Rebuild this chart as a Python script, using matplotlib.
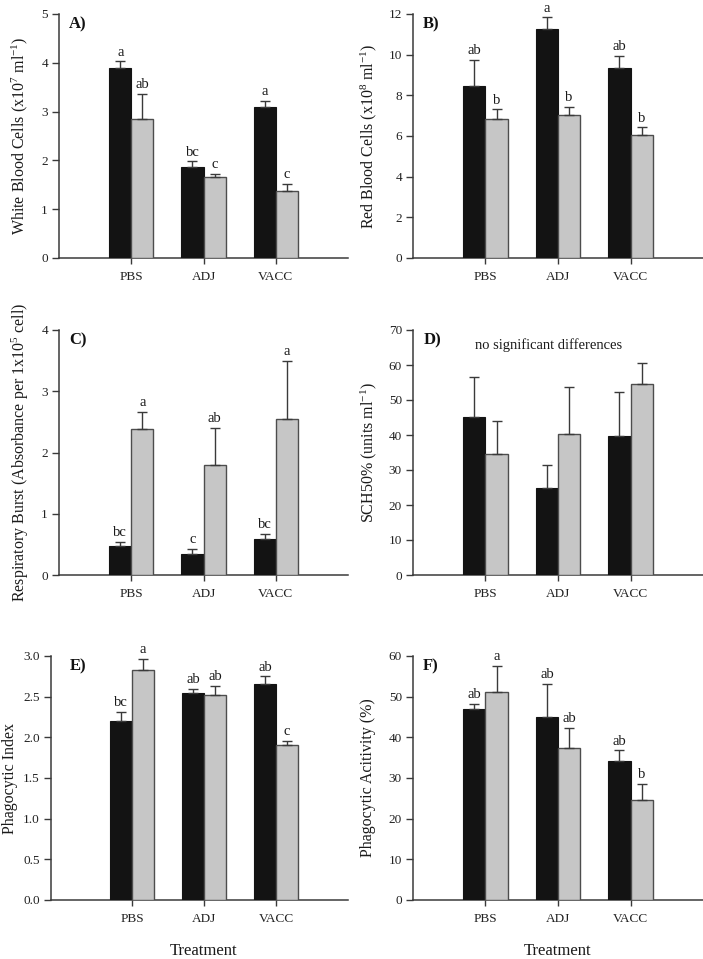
import numpy as np
import matplotlib.pyplot as plt

plt.rcParams['font.family'] = ['Liberation Serif', 'DejaVu Serif']
plt.rcParams['mathtext.fontset'] = 'custom'
plt.rcParams['mathtext.rm'] = 'Liberation Serif'
plt.rcParams['mathtext.it'] = 'Liberation Serif:italic'

treatments = ['PBS', 'ADJ', 'VACC']

# A) white blood cells
wbc_black = [3.89, 1.87, 3.09]
wbc_black_se = [0.14, 0.11, 0.13]
wbc_gray = [2.85, 1.67, 1.37]
wbc_gray_se = [0.52, 0.06, 0.15]
wbc_letters = [['a', 'bc', 'a'], ['ab', 'c', 'c']]

# B) red blood cells
rbc_black = [8.47, 11.25, 9.35]
rbc_black_se = [1.26, 0.58, 0.58]
rbc_gray = [6.83, 7.01, 6.04]
rbc_gray_se = [0.48, 0.41, 0.38]
rbc_letters = [['ab', 'a', 'ab'], ['b', 'b', 'b']]

# C) respiratory burst
rb_black = [0.48, 0.35, 0.59]
rb_black_se = [0.06, 0.07, 0.08]
rb_gray = [2.38, 1.79, 2.55]
rb_gray_se = [0.28, 0.61, 0.94]
rb_letters = [['bc', 'c', 'bc'], ['a', 'ab', 'a']]

# D) SCH50
sch_black = [45.2, 24.9, 39.6]
sch_black_se = [11.3, 6.4, 12.7]
sch_gray = [34.5, 40.2, 54.5]
sch_gray_se = [9.6, 13.4, 6.0]

# E) phagocytic index
pi_black = [2.20, 2.54, 2.66]
pi_black_se = [0.11, 0.055, 0.09]
pi_gray = [2.83, 2.52, 1.90]
pi_gray_se = [0.13, 0.11, 0.06]
pi_letters = [['bc', 'ab', 'ab'], ['a', 'ab', 'c']]

# F) phagocytic activity
pa_black = [46.9, 44.9, 34.2]
pa_black_se = [1.3, 8.3, 2.6]
pa_gray = [51.2, 37.4, 24.7]
pa_gray_se = [6.4, 4.9, 3.8]
pa_letters = [['ab', 'ab', 'ab'], ['a', 'ab', 'b']]

W, H = 703, 959
fig = plt.figure(figsize=(W / 100, H / 100), dpi=100)

axc = '#3a3a3a'
black = '#131313'
gray = '#c6c6c6'


def px_axes(l, r, t, b):
    return fig.add_axes([l / W, 1 - b / H, (r - l) / W, (b - t) / H])


def panel(ax, tag, black_v, black_se, gray_v, gray_se, letters, ylim, yticks,
          ylabel, ylab_x, xlim=(0, 4), fmt=None, xlabel=False):
    x = np.arange(1, 4)
    w = 0.305
    ax.bar(x - w / 2, black_v, w, color=black, edgecolor=black, linewidth=0.8,
           yerr=[np.zeros(3), black_se], error_kw=dict(ecolor=axc, elinewidth=1, capsize=3.5, capthick=1),
           zorder=3)
    ax.bar(x + w / 2, gray_v, w, color=gray, edgecolor='#4d4d4d', linewidth=1,
           yerr=[np.zeros(3), gray_se], error_kw=dict(ecolor=axc, elinewidth=1, capsize=3.5, capthick=1),
           zorder=3)
    if letters is not None:
        for i in range(3):
            ax.annotate(letters[0][i], (x[i] - w / 2, black_v[i] + black_se[i]),
                        xytext=(0, 2), textcoords='offset points', ha='center', va='bottom',
                        fontsize=10.5, color='#1a1a1a')
            ax.annotate(letters[1][i], (x[i] + w / 2, gray_v[i] + gray_se[i]),
                        xytext=(0, 2), textcoords='offset points', ha='center', va='bottom',
                        fontsize=10.5, color='#1a1a1a')
    ax.set_xlim(*xlim)
    ax.set_ylim(*ylim)
    ax.set_yticks(yticks)
    if fmt:
        ax.set_yticklabels([fmt.format(v) for v in yticks])
    ax.set_xticks(x)
    ax.set_xticklabels(treatments)
    for s in ['top', 'right']:
        ax.spines[s].set_visible(False)
    for s in ['left', 'bottom']:
        ax.spines[s].set_color(axc)
        ax.spines[s].set_linewidth(1.1)
    ax.tick_params(axis='y', length=5, width=1, color=axc, labelsize=9.5, pad=3, labelcolor='#222222')
    ax.tick_params(axis='x', length=4.5, width=1, color=axc, labelsize=9.5, pad=5, labelcolor='#222222')
    ax.set_ylabel(ylabel, fontsize=11.5, color='#1a1a1a')
    ax.yaxis.set_label_coords(ylab_x, 0.5)
    ax.text(0.035 if xlim[0] == 0 else 0.064, 0.99, tag, transform=ax.transAxes,
            fontsize=12, fontweight='bold', ha='left', va='top', color='#111111')
    if xlabel:
        ax.set_xlabel('Treatment', fontsize=12, color='#1a1a1a')
        xc = (2 - xlim[0]) / (xlim[1] - xlim[0])
        ax.xaxis.set_label_coords(xc, -0.175)


axA = px_axes(59, 348, 14, 258)
panel(axA, 'A)', wbc_black, wbc_black_se, wbc_gray, wbc_gray_se, wbc_letters,
      (0, 5), np.arange(0, 6), r'White Blood Cells (x10$^{7}$ ml$^{-1}$)', -0.100)

axB = px_axes(413, 703, 14, 258)
panel(axB, 'B)', rbc_black, rbc_black_se, rbc_gray, rbc_gray_se, rbc_letters,
      (0, 12), np.arange(0, 13, 2), r'Red Blood Cells (x10$^{8}$ ml$^{-1}$)', -0.118)

axC = px_axes(59, 348, 330, 575)
panel(axC, 'C)', rb_black, rb_black_se, rb_gray, rb_gray_se, rb_letters,
      (0, 4), np.arange(0, 5), r'Respiratory Burst (Absorbance per 1x10$^{5}$ cell)', -0.097)

axD = px_axes(413, 703, 330, 575)
panel(axD, 'D)', sch_black, sch_black_se, sch_gray, sch_gray_se, None,
      (0, 70), np.arange(0, 71, 10), r'SCH50% (units ml$^{-1}$)', -0.117)
axD.text(1.87, 65.7, 'no significant differences', ha='center', va='center',
         fontsize=10.5, color='#1a1a1a')

axE = px_axes(51, 348, 656, 900)
panel(axE, 'E)', pi_black, pi_black_se, pi_gray, pi_gray_se, pi_letters,
      (0, 3), np.arange(0, 3.01, 0.5), 'Phagocytic Index', -0.110,
      xlim=(-0.125, 4), fmt='{:.1f}', xlabel=True)

axF = px_axes(413, 703, 656, 900)
panel(axF, 'F)', pa_black, pa_black_se, pa_gray, pa_gray_se, pa_letters,
      (0, 60), np.arange(0, 61, 10), 'Phagocytic Acitivity (%)', -0.127, xlabel=True)

fig.savefig('out.png', dpi=100)
